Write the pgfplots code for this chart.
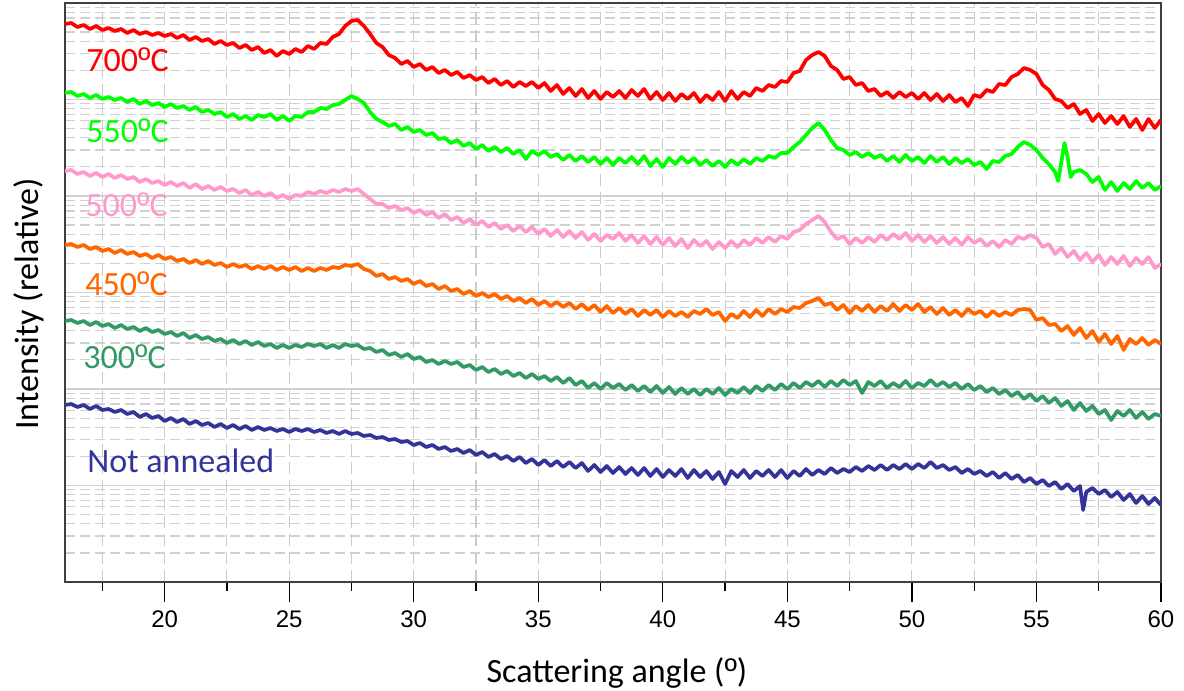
\documentclass[border=0pt]{standalone}
\usepackage{fontspec}
\setmainfont{Carlito}
\newfontfamily\arialf{Liberation Sans}
\usepackage{pgfplots}
\pgfplotsset{compat=1.18}
\definecolor{cA}{HTML}{FF0000}
\definecolor{cB}{HTML}{00FF00}
\definecolor{cC}{HTML}{FF99CC}
\definecolor{cD}{HTML}{FF6600}
\definecolor{cE}{HTML}{339966}
\definecolor{cF}{HTML}{333399}
\newcommand{\ordm}{{\arialf º}}
\begin{document}
\begin{tikzpicture}
\begin{axis}[
  scale only axis, width=1096pt, height=579pt,
  xmin=16, xmax=60, ymin=0, ymax=579,
  axis line style={black!75, line width=1.8pt},
  xtick={20,25,...,60}, minor xtick={17.5,22.5,...,57.5},
  xtick pos=bottom, xtick align=outside,
  major tick length=20pt, minor tick length=9pt,
  xtick style={black, line width=1.3pt},
  ytick={96.5,193,289.5,386,482.5},
  minor ytick={29.05,46.03,58.09,67.45,75.08,81.54,87.14,92.06,
    125.55,142.53,154.59,163.95,171.58,178.04,183.64,188.56,
    222.05,239.03,251.09,260.45,268.08,274.54,280.14,285.06,
    318.55,335.53,347.59,356.95,364.58,371.04,376.64,381.56,
    415.05,432.03,444.09,453.45,461.08,467.54,473.14,478.06,
    511.55,528.53,540.59,549.95,557.58,564.04,569.64,574.56},
  yticklabels={}, ytick style={draw=none},
  grid=both,
  major x grid style={black!20, line width=1.1pt, dash pattern=on 12pt off 6pt},
  minor x grid style={black!20, line width=1.1pt, dash pattern=on 12pt off 6pt},
  major y grid style={black!18, line width=1.8pt},
  minor y grid style={black!18, line width=1.1pt, dash pattern=on 10pt off 5pt},
  /pgf/number format/assume math mode=true,
  xticklabel style={font=\arialf\fontsize{24}{28}\selectfont, yshift=-5pt},
  xlabel={Scattering angle (\ordm)}, ylabel={Intensity (relative)},
  label style={font=\fontsize{34}{40}\selectfont},
  xlabel style={at={(axis description cs:0.5036,-0.1744)}, anchor=base},
  ylabel style={at={(axis description cs:-0.0246,0.48)}, anchor=base},
  every axis plot/.append style={line width=3.7pt, line join=round},
]
\addplot[cA, line width=3.7pt] coordinates {(16,558)(16.25,559)(16.5,555)(16.75,557)(17,553)(17.25,556)(17.5,552)(17.75,554)(18,551)(18.25,553)(18.5,549)(18.75,552)(19,548)(19.25,550)(19.5,547)(19.75,549)(20,546)(20.25,548)(20.5,544)(20.75,547)(21,542)(21.25,545)(21.5,541)(21.75,543)(22,538)(22.25,541)(22.5,537)(22.75,539)(23,534)(23.25,537)(23.5,532)(23.75,535)(24,529)(24.25,532)(24.5,526)(24.75,531)(25,528)(25.25,533)(25.5,530)(25.75,536)(26,533)(26.25,539)(26.5,538)(26.75,545)(27,548)(27.25,556)(27.5,561)(27.75,562)(28,556)(28.25,548)(28.5,539)(28.75,535)(29,527)(29.25,524)(29.5,518)(29.75,521)(30,515)(30.25,518)(30.5,512)(30.75,515)(31,509)(31.25,512)(31.5,507)(31.75,510)(32,504)(32.25,507)(32.5,502)(32.75,505)(33,499)(33.25,503)(33.5,497)(33.75,501)(34,495)(34.25,500)(34.5,496)(34.75,500)(35,494)(35.25,499)(35.5,491)(35.75,497)(36,488)(36.25,494)(36.5,486)(36.75,493)(37,484)(37.25,491)(37.5,483)(37.75,490)(38,485)(38.25,491)(38.5,484)(38.75,492)(39,486)(39.25,493)(39.5,483)(39.75,490)(40,482)(40.25,489)(40.5,481)(40.75,488)(41,483)(41.25,489)(41.5,480)(41.75,487)(42,482)(42.25,490)(42.5,481)(42.75,491)(43,483)(43.25,490)(43.5,486)(43.75,494)(44,491)(44.25,497)(44.5,495)(44.75,501)(45,500)(45.25,509)(45.5,511)(45.75,522)(46,527)(46.25,530)(46.5,526)(46.75,516)(47,512)(47.25,503)(47.5,505)(47.75,497)(48,499)(48.25,491)(48.5,493)(48.75,486)(49,490)(49.25,484)(49.5,490)(49.75,485)(50,489)(50.25,483)(50.5,489)(50.75,482)(51,488)(51.25,481)(51.5,487)(51.75,480)(52,484)(52.25,476)(52.5,487)(52.75,485)(53,492)(53.25,490)(53.5,498)(53.75,497)(54,505)(54.25,508)(54.5,514)(54.75,512)(55,508)(55.25,497)(55.5,492)(55.75,483)(56,481)(56.25,474)(56.5,478)(56.75,468)(57,472)(57.25,461)(57.5,468)(57.75,459)(58,466)(58.25,458)(58.5,466)(58.75,455)(59,463)(59.25,452)(59.5,463)(59.75,454)(60,462)};
\addplot[cB, line width=3.7pt] coordinates {(16,489)(16.25,490)(16.5,486)(16.75,488)(17,484)(17.25,487)(17.5,483)(17.75,485)(18,482)(18.25,484)(18.5,480)(18.75,483)(19,478)(19.25,481)(19.5,477)(19.75,479)(20,475)(20.25,478)(20.5,474)(20.75,476)(21,472)(21.25,475)(21.5,470)(21.75,472)(22,468)(22.25,470)(22.5,465)(22.75,468)(23,463)(23.25,466)(23.5,462)(23.75,467)(24,465)(24.25,468)(24.5,462)(24.75,466)(25,461)(25.25,466)(25.5,465)(25.75,470)(26,470)(26.25,474)(26.5,473)(26.75,477)(27,478)(27.25,482)(27.5,486)(27.75,483)(28,479)(28.25,470)(28.5,463)(28.75,460)(29,456)(29.25,458)(29.5,452)(29.75,455)(30,450)(30.25,452)(30.5,447)(30.75,449)(31,443)(31.25,444)(31.5,439)(31.75,442)(32,436)(32.25,439)(32.5,433)(32.75,437)(33,431)(33.25,435)(33.5,430)(33.75,434)(34,428)(34.25,432)(34.5,423)(34.75,431)(35,427)(35.25,431)(35.5,425)(35.75,428)(36,422)(36.25,427)(36.5,421)(36.75,426)(37,420)(37.25,425)(37.5,418)(37.75,424)(38,417)(38.25,424)(38.5,419)(38.75,425)(39,418)(39.25,426)(39.5,416)(39.75,423)(40,415)(40.25,424)(40.5,418)(40.75,425)(41,419)(41.25,424)(41.5,417)(41.75,422)(42,416)(42.25,421)(42.5,415)(42.75,422)(43,417)(43.25,423)(43.5,418)(43.75,424)(44,421)(44.25,426)(44.5,424)(44.75,429)(45,429)(45.25,435)(45.5,440)(45.75,447)(46,454)(46.25,459)(46.5,452)(46.75,442)(47,434)(47.25,432)(47.5,427)(47.75,430)(48,425)(48.25,429)(48.5,424)(48.75,427)(49,421)(49.25,426)(49.5,420)(49.75,427)(50,421)(50.25,425)(50.5,419)(50.75,426)(51,420)(51.25,425)(51.5,418)(51.75,424)(52,419)(52.25,423)(52.5,417)(52.75,420)(53,413)(53.25,421)(53.5,420)(53.75,426)(54,428)(54.25,435)(54.5,440)(54.75,437)(55,432)(55.25,424)(55.5,418)(55.75,410)(55.875,401)(56,420)(56.125,439)(56.25,425)(56.375,405)(56.5,410)(56.75,412)(57,408)(57.25,400)(57.5,405)(57.75,392)(58,400)(58.25,391)(58.5,399)(58.75,393)(59,401)(59.25,394)(59.5,399)(59.75,392)(60,396)};
\addplot[cC, line width=3.7pt] coordinates {(16,411)(16.25,412)(16.5,408)(16.75,410)(17,406)(17.25,409)(17.5,405)(17.75,408)(18,404)(18.25,407)(18.5,403)(18.75,405)(19,400)(19.25,403)(19.5,399)(19.75,401)(20,397)(20.25,400)(20.5,396)(20.75,399)(21,394)(21.25,398)(21.5,393)(21.75,396)(22,392)(22.25,395)(22.5,391)(22.75,393)(23,389)(23.25,392)(23.5,387)(23.75,390)(24,386)(24.25,389)(24.5,384)(24.75,387)(25,383)(25.25,387)(25.5,386)(25.75,390)(26,388)(26.25,391)(26.5,389)(26.75,392)(27,390)(27.25,393)(27.5,391)(27.75,393)(28,388)(28.25,383)(28.5,378)(28.75,378)(29,374)(29.25,376)(29.5,372)(29.75,374)(30,369)(30.25,372)(30.5,367)(30.75,370)(31,364)(31.25,368)(31.5,362)(31.75,365)(32,359)(32.25,363)(32.5,357)(32.75,361)(33,355)(33.25,359)(33.5,353)(33.75,357)(34,351)(34.25,356)(34.5,350)(34.75,355)(35,348)(35.25,353)(35.5,346)(35.75,352)(36,345)(36.25,351)(36.5,344)(36.75,350)(37,342)(37.25,348)(37.5,341)(37.75,347)(38,343)(38.25,349)(38.5,341)(38.75,347)(39,339)(39.25,346)(39.5,338)(39.75,345)(40,337)(40.25,344)(40.5,336)(40.75,343)(41,334)(41.25,342)(41.5,336)(41.75,341)(42,333)(42.25,340)(42.5,334)(42.75,341)(43,335)(43.25,342)(43.5,337)(43.75,344)(44,339)(44.25,345)(44.5,340)(44.75,346)(45,343)(45.25,350)(45.5,352)(45.75,358)(46,362)(46.25,366)(46.5,360)(46.75,350)(47,343)(47.25,346)(47.5,338)(47.75,344)(48,339)(48.25,345)(48.5,340)(48.75,347)(49,342)(49.25,348)(49.5,343)(49.75,349)(50,341)(50.25,347)(50.5,340)(50.75,346)(51,339)(51.25,345)(51.5,338)(51.75,344)(52,337)(52.25,345)(52.5,339)(52.75,343)(53,336)(53.25,341)(53.5,335)(53.75,342)(54,338)(54.25,345)(54.5,343)(54.75,347)(55,344)(55.25,335)(55.5,338)(55.75,328)(56,334)(56.25,325)(56.5,331)(56.75,322)(57,329)(57.25,320)(57.5,327)(57.75,317)(58,325)(58.25,318)(58.5,326)(58.75,316)(59,324)(59.25,318)(59.5,325)(59.75,314)(60,318)};
\addplot[cD, line width=3.7pt] coordinates {(16,337)(16.25,338)(16.5,335)(16.75,337)(17,333)(17.25,335)(17.5,331)(17.75,333)(18,329)(18.25,332)(18.5,328)(18.75,330)(19,326)(19.25,328)(19.5,324)(19.75,327)(20,323)(20.25,325)(20.5,321)(20.75,323)(21,319)(21.25,322)(21.5,318)(21.75,321)(22,317)(22.25,319)(22.5,315)(22.75,318)(23,315)(23.25,317)(23.5,313)(23.75,316)(24,313)(24.25,316)(24.5,312)(24.75,315)(25,312)(25.25,315)(25.5,311)(25.75,314)(26,311)(26.25,314)(26.5,312)(26.75,315)(27,314)(27.25,317)(27.5,316)(27.75,318)(28,313)(28.25,311)(28.5,306)(28.75,308)(29,303)(29.25,305)(29.5,301)(29.75,303)(30,298)(30.25,301)(30.5,296)(30.75,298)(31,293)(31.25,296)(31.5,291)(31.75,293)(32,288)(32.25,291)(32.5,286)(32.75,289)(33,285)(33.25,288)(33.5,283)(33.75,286)(34,281)(34.25,284)(34.5,279)(34.75,283)(35,277)(35.25,281)(35.5,276)(35.75,280)(36,275)(36.25,279)(36.5,273)(36.75,278)(37,272)(37.25,277)(37.5,270)(37.75,276)(38,269)(38.25,274)(38.5,268)(38.75,273)(39,266)(39.25,272)(39.5,267)(39.75,272)(40,265)(40.25,271)(40.5,266)(40.75,270)(41,265)(41.25,271)(41.5,268)(41.75,273)(42,267)(42.25,270)(42.5,261)(42.75,268)(43,264)(43.25,271)(43.5,265)(43.75,272)(44,266)(44.25,273)(44.5,268)(44.75,273)(45,270)(45.25,275)(45.5,274)(45.75,279)(46,281)(46.25,284)(46.5,277)(46.75,279)(47,272)(47.25,277)(47.5,269)(47.75,276)(48,271)(48.25,277)(48.5,270)(48.75,276)(49,271)(49.25,278)(49.5,271)(49.75,277)(50,272)(50.25,278)(50.5,270)(50.75,275)(51,268)(51.25,274)(51.5,267)(51.75,272)(52,266)(52.25,273)(52.5,268)(52.75,271)(53,265)(53.25,271)(53.5,266)(53.75,270)(54,267)(54.25,272)(54.5,273)(54.75,272)(55,262)(55.25,264)(55.5,257)(55.75,258)(56,251)(56.25,256)(56.5,247)(56.75,254)(57,244)(57.25,251)(57.5,240)(57.75,248)(58,238)(58.25,246)(58.5,232)(58.75,243)(59,238)(59.25,244)(59.5,237)(59.75,242)(60,238)};
\addplot[cE, line width=3.7pt] coordinates {(16,261)(16.25,262)(16.5,259)(16.75,261)(17,257)(17.25,260)(17.5,256)(17.75,258)(18,254)(18.25,257)(18.5,253)(18.75,255)(19,251)(19.25,254)(19.5,250)(19.75,252)(20,248)(20.25,250)(20.5,246)(20.75,249)(21,244)(21.25,247)(21.5,243)(21.75,245)(22,241)(22.25,243)(22.5,239)(22.75,242)(23,238)(23.25,241)(23.5,237)(23.75,240)(24,236)(24.25,238)(24.5,234)(24.75,237)(25,234)(25.25,237)(25.5,235)(25.75,238)(26,236)(26.25,238)(26.5,234)(26.75,237)(27,234)(27.25,238)(27.5,236)(27.75,237)(28,233)(28.25,234)(28.5,230)(28.75,232)(29,227)(29.25,229)(29.5,225)(29.75,228)(30,223)(30.25,225)(30.5,220)(30.75,222)(31,218)(31.25,221)(31.5,218)(31.75,220)(32,215)(32.25,217)(32.5,212)(32.75,215)(33,210)(33.25,213)(33.5,208)(33.75,211)(34,206)(34.25,209)(34.5,204)(34.75,208)(35,203)(35.25,206)(35.5,201)(35.75,205)(36,199)(36.25,204)(36.5,197)(36.75,201)(37,194)(37.25,199)(37.5,193)(37.75,199)(38,194)(38.25,198)(38.5,192)(38.75,197)(39,191)(39.25,196)(39.5,190)(39.75,196)(40,189)(40.25,195)(40.5,188)(40.75,194)(41,188)(41.25,193)(41.5,187)(41.75,193)(42,188)(42.25,194)(42.5,187)(42.75,193)(43,189)(43.25,195)(43.5,189)(43.75,196)(44,191)(44.25,197)(44.5,192)(44.75,198)(45,193)(45.25,199)(45.5,194)(45.75,200)(46,196)(46.25,201)(46.5,195)(46.75,201)(47,196)(47.25,202)(47.5,197)(47.75,201)(48,189)(48.25,200)(48.5,196)(48.75,201)(49,194)(49.25,199)(49.5,195)(49.75,201)(50,194)(50.25,199)(50.5,196)(50.75,202)(51,196)(51.25,200)(51.5,195)(51.75,199)(52,193)(52.25,198)(52.5,192)(52.75,196)(53,190)(53.25,194)(53.5,188)(53.75,192)(54,186)(54.25,190)(54.5,183)(54.75,188)(55,181)(55.25,186)(55.5,179)(55.75,184)(56,176)(56.25,181)(56.5,172)(56.75,179)(57,171)(57.25,176)(57.5,168)(57.75,172)(58,162)(58.25,171)(58.5,166)(58.75,172)(59,164)(59.25,170)(59.5,163)(59.75,168)(60,166)};
\addplot[cF, line width=3.7pt] coordinates {(16,177)(16.25,178)(16.5,175)(16.75,177)(17,173)(17.25,176)(17.5,172)(17.75,173)(18,170)(18.25,172)(18.5,168)(18.75,170)(19,165)(19.25,168)(19.5,164)(19.75,166)(20,161)(20.25,164)(20.5,160)(20.75,163)(21,158)(21.25,161)(21.5,157)(21.75,159)(22,155)(22.25,158)(22.5,154)(22.75,157)(23,153)(23.25,156)(23.5,152)(23.75,155)(24,152)(24.25,154)(24.5,151)(24.75,153)(25,150)(25.25,153)(25.5,151)(25.75,153)(26,150)(26.25,152)(26.5,149)(26.75,151)(27,148)(27.25,151)(27.5,148)(27.75,149)(28,146)(28.25,147)(28.5,144)(28.75,145)(29,142)(29.25,143)(29.5,140)(29.75,141)(30,137)(30.25,139)(30.5,135)(30.75,137)(31,133)(31.25,135)(31.5,131)(31.75,133)(32,129)(32.25,132)(32.5,127)(32.75,130)(33,125)(33.25,128)(33.5,123)(33.75,126)(34,121)(34.25,125)(34.5,119)(34.75,123)(35,117)(35.25,122)(35.5,116)(35.75,121)(36,115)(36.25,120)(36.5,114)(36.75,119)(37,111)(37.25,117)(37.5,110)(37.75,116)(38,109)(38.25,115)(38.5,108)(38.75,114)(39,107)(39.25,114)(39.5,106)(39.75,113)(40,105)(40.25,112)(40.5,106)(40.75,113)(41,104)(41.25,112)(41.5,105)(41.75,111)(42,103)(42.25,110)(42.5,98)(42.75,111)(43,105)(43.25,112)(43.5,104)(43.75,111)(44,106)(44.25,112)(44.5,105)(44.75,112)(45,104)(45.25,111)(45.5,106)(45.75,113)(46,107)(46.25,112)(46.5,108)(46.75,114)(47,109)(47.25,113)(47.5,110)(47.75,115)(48,111)(48.25,116)(48.5,112)(48.75,117)(49,112)(49.25,117)(49.5,113)(49.75,118)(50,113)(50.25,118)(50.5,114)(50.75,120)(51,114)(51.25,117)(51.5,112)(51.75,115)(52,109)(52.25,113)(52.5,108)(52.75,111)(53,106)(53.25,110)(53.5,104)(53.75,109)(54,103)(54.25,107)(54.5,100)(54.75,104)(55,98)(55.25,102)(55.5,96)(55.75,100)(56,93)(56.25,98)(56.5,91)(56.75,96)(56.875,72)(57,90)(57.25,94)(57.5,88)(57.75,92)(58,85)(58.25,90)(58.5,82)(58.75,88)(59,79)(59.25,86)(59.5,78)(59.75,84)(60,77)};
\node[anchor=base west, text=cA, font=\fontsize{34}{40}\selectfont] at (axis cs:16.72,510) {700\ordm C};
\node[anchor=base west, text=cB, font=\fontsize{34}{40}\selectfont] at (axis cs:16.72,439) {550\ordm C};
\node[anchor=base west, text=cC, font=\fontsize{34}{40}\selectfont] at (axis cs:16.68,365) {500\ordm C};
\node[anchor=base west, text=cD, font=\fontsize{34}{40}\selectfont] at (axis cs:16.68,286) {450\ordm C};
\node[anchor=base west, text=cE, font=\fontsize{34}{40}\selectfont] at (axis cs:16.60,213) {300\ordm C};
\node[anchor=base west, text=cF, font=\fontsize{34}{40}\selectfont] at (axis cs:16.76,110) {Not annealed};
\node[font=\arialf\fontsize{9}{10}\selectfont, text=black!70] at (axis description cs:0.999,-0.0933) {2Theta (°)};
\end{axis}
\pgfresetboundingbox
\path[use as bounding box] (-65pt,-109pt) rectangle (1119pt,582pt);
\end{tikzpicture}
\end{document}
